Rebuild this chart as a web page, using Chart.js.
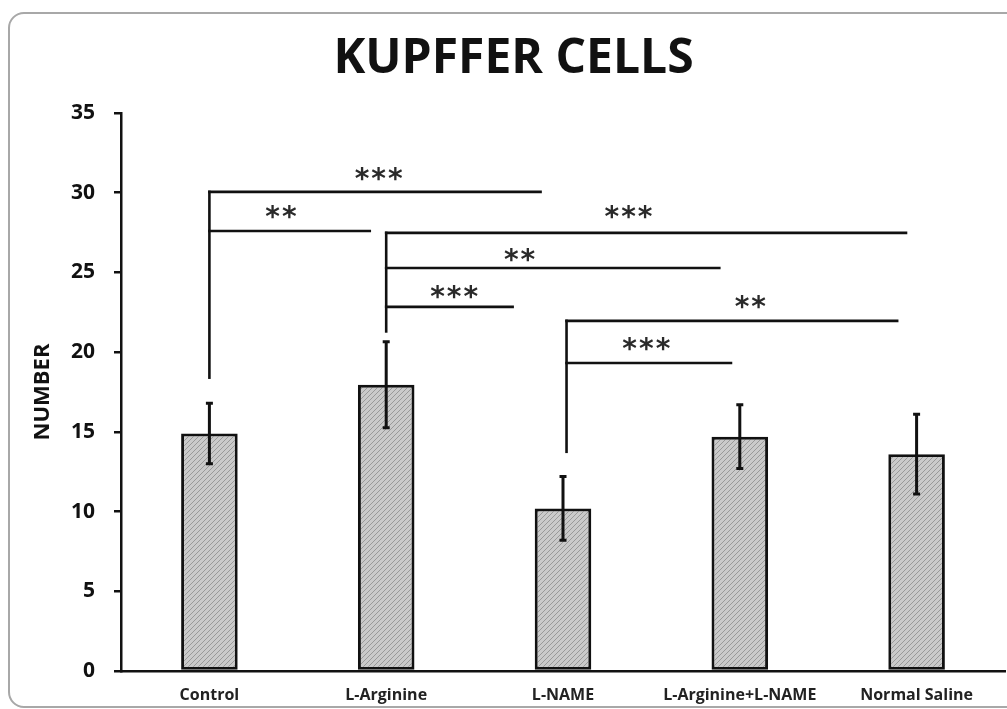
<!DOCTYPE html>
<html>
<head>
<meta charset="utf-8">
<script src="https://cdn.jsdelivr.net/npm/chart.js@4.4.1/dist/chart.umd.min.js"></script>
<style>
  html, body { margin: 0; padding: 0; background: #fff; overflow: hidden; }
  #wrap { position: relative; width: 1007px; height: 709px; }
  #frame { position: absolute; left: 8px; top: 12px; width: 1010px; height: 692px;
           border: 2px solid #a8a8a8; border-radius: 16px; }
  canvas { position: absolute; left: 0; top: 0; }
</style>
</head>
<body>
<div id="wrap">
  <div id="frame"></div>
  <canvas id="c" width="1007" height="709"></canvas>
</div>
<script>
// ---- data ----
const categories = ['Control', 'L-Arginine', 'L-NAME', 'L-Arginine+L-NAME', 'Normal Saline'];
const meanValues = [14.9, 17.95, 10.2, 14.7, 13.6];
const errorValues = [1.9, 2.7, 2.0, 2.0, 2.5];
const yAxisMin = 0;
const yAxisMax = 35;
const yAxisStep = 5;
const chartTitle = 'KUPFFER CELLS';
const yAxisTitle = 'NUMBER';

// significance brackets (category index for x, value units for y)
const bracketOrigins = [0, 1, 2.02];
const bracketTops = [30.05, 27.48, 21.96];
const bracketBottoms = [18.4, 21.3, 13.75];
const armOrigin = [0, 0, 1, 1, 1, 2, 2];
const armLevels = [30.05, 27.6, 27.48, 25.28, 22.84, 21.96, 19.32];
const armEnds = [1.873, 0.907, 3.94, 2.884, 1.715, 3.89, 2.95];
const armLabels = ['***', '**', '***', '**', '***', '**', '***'];
const armLabelX = [0.963, 0.41, 2.376, 1.76, 1.39, 3.065, 2.477];
const armLabelY = [31.0, 28.6, 28.6, 25.9, 23.6, 23.0, 20.35];

// ---- hatch pattern for bars ----
function makeHatch() {
  const p = document.createElement('canvas');
  p.width = 5; p.height = 5;
  const g = p.getContext('2d');
  g.fillStyle = '#cacaca';
  g.fillRect(0, 0, 5, 5);
  g.strokeStyle = '#999999';
  g.lineWidth = 1;
  g.beginPath();
  g.moveTo(-1, 6); g.lineTo(6, -1);
  g.moveTo(-1, 1); g.lineTo(1, -1);
  g.moveTo(4, 6); g.lineTo(6, 4);
  g.stroke();
  return document.getElementById('c').getContext('2d').createPattern(p, 'repeat');
}

function xAt(chart, idx) {
  const xs = chart.scales.x;
  const p0 = xs.getPixelForValue(0);
  const p1 = xs.getPixelForValue(1);
  return p0 + idx * (p1 - p0);
}

const overlayPlugin = {
  id: 'overlay',
  afterDatasetsDraw(chart) {
    const ctx = chart.ctx;
    const ys = chart.scales.y;
    ctx.save();
    // error bars
    ctx.strokeStyle = '#111';
    ctx.lineWidth = 3;
    ctx.lineCap = 'butt';
    meanValues.forEach((m, i) => {
      const x = xAt(chart, i);
      const yt = ys.getPixelForValue(m + errorValues[i]);
      const yb = ys.getPixelForValue(m - errorValues[i]);
      ctx.beginPath();
      ctx.moveTo(x, yt); ctx.lineTo(x, yb);
      ctx.moveTo(x - 3.5, yt); ctx.lineTo(x + 3.5, yt);
      ctx.moveTo(x - 3.5, yb); ctx.lineTo(x + 3.5, yb);
      ctx.stroke();
    });
    // brackets
    ctx.lineWidth = 2.6;
    ctx.lineCap = 'square';
    bracketOrigins.forEach((o, i) => {
      const x = xAt(chart, o);
      ctx.beginPath();
      ctx.moveTo(x, ys.getPixelForValue(bracketTops[i]));
      ctx.lineTo(x, ys.getPixelForValue(bracketBottoms[i]));
      ctx.stroke();
    });
    armLevels.forEach((lv, i) => {
      const x0 = xAt(chart, bracketOrigins[armOrigin[i]]);
      const x1 = xAt(chart, armEnds[i]);
      const y = ys.getPixelForValue(lv);
      ctx.beginPath();
      ctx.moveTo(x0, y); ctx.lineTo(x1, y);
      ctx.stroke();
    });
    // star labels
    ctx.fillStyle = '#2a2a2a';
    ctx.font = 'bold 28px "DejaVu Sans"';
    ctx.textAlign = 'center';
    ctx.textBaseline = 'middle';
    if ('letterSpacing' in ctx) ctx.letterSpacing = '2px';
    armLabels.forEach((t, i) => {
      const x = xAt(chart, armLabelX[i]);
      const y = ys.getPixelForValue(armLabelY[i]);
      ctx.fillText(t, x, y + 4);
    });
    ctx.restore();
  }
};

new Chart(document.getElementById('c'), {
  type: 'bar',
  data: {
    labels: categories,
    datasets: [{
      data: meanValues,
      backgroundColor: makeHatch(),
      borderColor: '#111',
      borderWidth: 3,
      borderSkipped: false,
      categoryPercentage: 1,
      barPercentage: 0.32
    }]
  },
  options: {
    responsive: false,
    animation: false,
    layout: { padding: { left: 22, right: 2, top: 0, bottom: 0 } },
    plugins: {
      legend: { display: false },
      tooltip: { enabled: false },
      title: {
        display: true,
        text: chartTitle,
        color: '#111',
        font: { family: '"Open Sans"', size: 48, weight: 'bold', lineHeight: 1.2 },
        padding: { top: 31, bottom: 24.4 }
      }
    },
    scales: {
      x: {
        grid: { display: false, drawTicks: false },
        border: { display: true, color: '#111', width: 2.5 },
        ticks: { color: '#222', padding: 15, maxRotation: 0, autoSkip: false,
                 font: { family: '"Open Sans"', size: 16, weight: 'bold' } },
        afterFit(s) { s.height = 38; }
      },
      y: {
        min: yAxisMin, max: yAxisMax,
        grid: { display: true, drawOnChartArea: false, drawTicks: true, tickLength: 7,
                color: '#111', lineWidth: 2.5 },
        border: { display: true, color: '#111', width: 2.5 },
        ticks: { stepSize: yAxisStep, color: '#111', padding: 19,
                 font: { family: '"Open Sans"', size: 21, weight: 'bold' } },
        title: { display: true, text: yAxisTitle, color: '#111',
                 font: { family: '"Open Sans"', size: 22, weight: 'bold' },
                 padding: { top: 8, bottom: 0 } },
        afterFit(s) { s.width = 99; }
      }
    }
  },
  plugins: [overlayPlugin]
});
</script>
</body>
</html>
